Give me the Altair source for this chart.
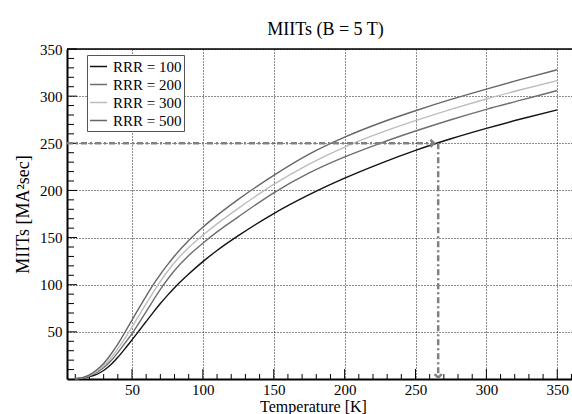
import altair as alt
import pandas as pd

# ---------------- data ----------------
temperature = [10, 15, 20, 25, 30, 35, 40, 45, 50, 55, 60, 65, 70, 75, 80, 90, 100, 110,
               125, 150, 175, 200, 225, 250, 275, 300, 325, 350]
miits_rrr100 = [0.2, 0.8, 2.5, 5, 9, 15, 23, 32, 41.5, 51.2, 61, 70.7, 80, 88.7, 96.8,
                111.3, 124.5, 136.3, 152, 175.5, 195.5, 213, 228.5, 242.5, 254.8, 265.8,
                276, 285.5]
miits_rrr200 = [0.2, 1, 3.2, 7, 12, 19, 28, 38, 48, 59.5, 71.5, 83.5, 95, 105.5, 115,
                131, 144, 156, 172, 197.5, 218.5, 235.5, 250, 263, 275, 286, 296, 306]
miits_rrr300 = [0.3, 1.2, 3.8, 8, 14, 22, 32, 43, 55, 67.5, 80, 92, 103.5, 114, 123.5,
                139.5, 152.5, 164.5, 181, 206.5, 228, 246, 261, 274, 286, 297, 307, 316.5]
miits_rrr500 = [0.3, 1.5, 4.5, 9.5, 16.5, 26, 37, 49.5, 62.5, 75.5, 88, 100, 111, 121,
                130.5, 147, 161, 173.5, 190.5, 216, 238.5, 256.5, 271.5, 284.5, 296.5,
                307.5, 318, 328]

series_labels = ["RRR = 100", "RRR = 200", "RRR = 300", "RRR = 500"]
series_values = [miits_rrr100, miits_rrr200, miits_rrr300, miits_rrr500]
series_colors = ["#111111", "#6e6e6e", "#bdbdbd", "#666666"]

x_domain = [4.15, 360.4]
y_domain = [0, 350]
x_major = [50, 100, 150, 200, 250, 300, 350]
y_major = [50, 100, 150, 200, 250, 300, 350]
x_minor = [10, 20, 30, 40, 60, 70, 80, 90, 110, 120, 130, 140, 160, 170, 180, 190,
           210, 220, 230, 240, 260, 270, 280, 290, 310, 320, 330, 340, 360]
y_minor = [10, 20, 30, 40, 60, 70, 80, 90, 110, 120, 130, 140, 160, 170, 180, 190,
           210, 220, 230, 240, 260, 270, 280, 290, 310, 320, 330, 340]

arrow_level = [250]
arrow_h_end = [263]
arrow_temp = [266]
arrow_bottom = [1.5]

# ---------------- build ----------------
rows = []
for lab, vals in zip(series_labels, series_values):
    for t, v in zip(temperature, vals):
        rows.append({"T": t, "MIITs": v, "series": lab})
df = pd.DataFrame(rows)

W, H = 505, 330
FONT = "Liberation Serif"

xs = alt.Scale(domain=x_domain, nice=False, zero=False)
ys = alt.Scale(domain=y_domain, nice=False, zero=False)

axis_x = alt.Axis(values=x_major, grid=True, gridDash=[1, 2], gridColor="#000000",
                  gridWidth=1, gridOpacity=0.9, ticks=False, domainColor="#000000",
                  domainWidth=2, labelFont=FONT, labelFontSize=15, labelColor="#000000",
                  labelPadding=3, labelFlush=False,
                  title="Temperature [K]", titleFont=FONT, titleFontSize=16,
                  titleFontWeight="normal", titleColor="#000000",
                  titleX=246, titleY=32, titleBaseline="alphabetic", titleAlign="center")
axis_y = alt.Axis(values=y_major, grid=True, gridDash=[1, 2], gridColor="#000000",
                  gridWidth=1, gridOpacity=0.9, ticks=False, domainColor="#000000",
                  domainWidth=2, labelFont=FONT, labelFontSize=15, labelColor="#000000",
                  labelPadding=5, labelFlush=False,
                  title="MIITs [MA²sec]", titleFont=FONT, titleFontSize=18,
                  titleFontWeight="normal", titleColor="#000000",
                  titleX=-39, titleY=165, titleAngle=270, titleBaseline="alphabetic",
                  titleAlign="center")


def X(field="T"):
    return alt.X(f"{field}:Q", scale=xs, axis=axis_x)


def Y(field="MIITs"):
    return alt.Y(f"{field}:Q", scale=ys, axis=axis_y)


lines = alt.Chart(df).mark_line(strokeWidth=1.4, interpolate="monotone").encode(
    x=X(), y=Y(),
    color=alt.Color("series:N",
                    scale=alt.Scale(domain=series_labels, range=series_colors),
                    legend=alt.Legend(title=None, orient="none", legendX=20, legendY=6,
                                      symbolType="stroke", symbolSize=289,
                                      symbolStrokeWidth=1.5, labelFont=FONT,
                                      labelFontSize=15, labelColor="#000000",
                                      labelExpr="datum.label + '\u00a0\u00a0\u00a0\u00a0\u00a0'",
                                      strokeColor="#555555", fillColor="white",
                                      padding=2, rowPadding=0, labelOffset=5)),
    detail="series:N",
)

arrow_color = "#808080"
dash = [6, 3, 2, 3]
h_df = pd.DataFrame({"T": [x_domain[0]], "T2": arrow_h_end, "MIITs": arrow_level})
h_line = alt.Chart(h_df).mark_rule(strokeDash=dash, strokeWidth=2.5, color=arrow_color).encode(
    x=X(), x2="T2:Q", y=Y())

v_df = pd.DataFrame({"T": arrow_temp, "MIITs": arrow_level, "M2": arrow_bottom})
v_line = alt.Chart(v_df).mark_rule(strokeDash=dash, strokeWidth=2.5, color=arrow_color).encode(
    x=X(), y=Y(), y2="M2:Q")

h_head_df = pd.DataFrame({"T": arrow_h_end, "MIITs": arrow_level})
h_head = alt.Chart(h_head_df).mark_point(shape="M-1,-1L0,0L-1,1", filled=False, size=50,
                                         strokeWidth=2.5, color=arrow_color, opacity=1).encode(
    x=X(), y=Y())
v_head_df = pd.DataFrame({"T": arrow_temp, "MIITs": arrow_bottom})
v_head = alt.Chart(v_head_df).mark_point(shape="M-1,-1L0,0L1,-1", filled=False, size=50,
                                         strokeWidth=2.5, color=arrow_color, opacity=1).encode(
    x=X(), y=Y())

# inward tick marks
xt_minor = alt.Chart(pd.DataFrame({"T": x_minor})).mark_rule(color="#000000", strokeWidth=1).encode(
    x=X(), y=alt.value(H), y2=alt.value(H - 5))
xt_major = alt.Chart(pd.DataFrame({"T": x_major})).mark_rule(color="#000000", strokeWidth=1).encode(
    x=X(), y=alt.value(H), y2=alt.value(H - 10))
yt_minor = alt.Chart(pd.DataFrame({"MIITs": y_minor})).mark_rule(color="#000000", strokeWidth=1).encode(
    y=Y(), x=alt.value(0), x2=alt.value(7))
yt_major = alt.Chart(pd.DataFrame({"MIITs": y_major})).mark_rule(color="#000000", strokeWidth=1).encode(
    y=Y(), x=alt.value(0), x2=alt.value(10))

top_border = alt.Chart(pd.DataFrame({"MIITs": [y_domain[1]]})).mark_rule(
    color="#000000", strokeWidth=1.5).encode(y=Y(), x=alt.value(0), x2=alt.value(W))

chart = alt.layer(
    xt_minor, xt_major, yt_minor, yt_major, top_border,
    lines, h_line, v_line, h_head, v_head,
).properties(
    width=W, height=H,
    padding={"left": 67, "top": 49, "right": 0, "bottom": 35},
    autosize=alt.AutoSizeParams(type="none"),
    title=alt.TitleParams("MIITs (B = 5 T)", font=FONT, fontSize=18, fontWeight="normal",
                          color="#000000", anchor="middle", dx=6, dy=5, offset=8),
).configure_view(stroke=None).configure_axis(labelFont=FONT, titleFont=FONT).configure_legend(
    labelFont=FONT).configure(background="white")

chart.save("out.html", embed_options={"renderer": "svg", "actions": False})
